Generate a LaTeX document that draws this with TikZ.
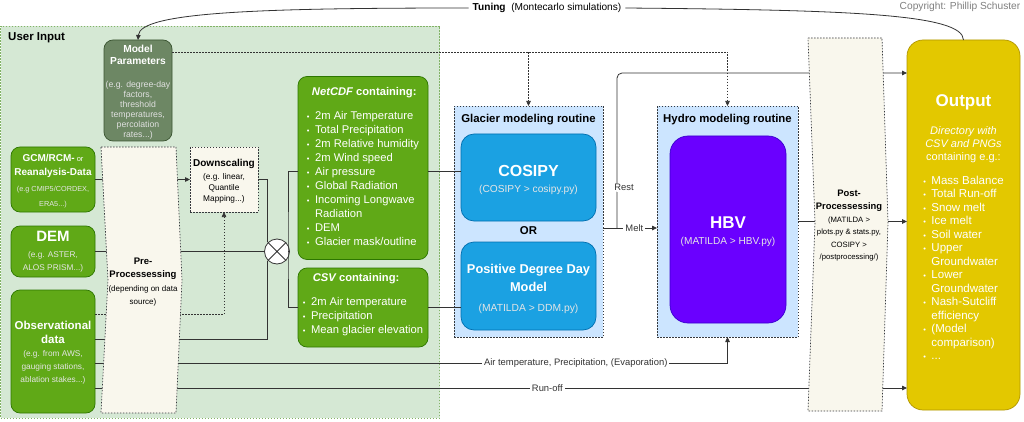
\documentclass[tikz,border=0pt]{standalone}
\usepackage{fontspec}
\setmainfont{Liberation Sans}
\usetikzlibrary{arrows.meta,calc}
\definecolor{uibg}{HTML}{D5E8D4}
\definecolor{uibd}{HTML}{82B366}
\definecolor{mpfill}{HTML}{6D8764}
\definecolor{mpbd}{HTML}{3A5431}
\definecolor{gfill}{HTML}{60A917}
\definecolor{gbd}{HTML}{2D7600}
\definecolor{ppfill}{HTML}{F9F7ED}
\definecolor{ppbd}{HTML}{36393D}
\definecolor{cbg}{HTML}{CCE5FF}
\definecolor{bfill}{HTML}{1BA1E2}
\definecolor{bbd}{HTML}{006EAF}
\definecolor{hfill}{HTML}{6A00FF}
\definecolor{hbd}{HTML}{3700CC}
\definecolor{ofill}{HTML}{E3C800}
\definecolor{obd}{HTML}{B09500}
\definecolor{ln}{HTML}{333333}
\newcommand\fsz[2]{\fontsize{#1}{#2}\selectfont}
\newcommand\bul{{\fontsize{7.5}{7}\selectfont\textbullet}}
\tikzset{
  base/.style={inner sep=0pt, outer sep=0pt, align=center},
  txt/.style={inner sep=0pt, outer sep=0pt, align=center},
  dotline/.style={dash pattern=on 1.5pt off 1.5pt, line width=0.7pt},
  uibox/.style={base, draw=uibd, fill=uibg, dotline},
  gbox/.style={base, draw=gbd, fill=gfill, rounded corners=9pt, text=white, line width=0.7pt},
  mpbox/.style={base, draw=mpbd, fill=mpfill, rounded corners=9pt, text=white, line width=0.7pt},
  ppbox/.style={draw=ppbd, fill=ppfill, dotline},
  dsbox/.style={base, draw=ppbd, fill=ppfill, dotline},
  cont/.style={base, draw=ppbd, fill=cbg, dotline},
  bbox/.style={base, draw=bbd, fill=bfill, rounded corners=13pt, text=white, line width=0.7pt},
  hbvbox/.style={base, draw=hbd, fill=hfill, rounded corners=18pt, text=white, line width=0.7pt},
  obox/.style={base, draw=obd, fill=ofill, rounded corners=16pt, text=white, line width=0.7pt},
  conn/.style={draw=ln, line width=0.8pt},
  arr/.style={-{Triangle[length=5pt,width=4.5pt]}},
  lbl/.style={fill=white, inner xsep=2pt, inner ysep=1pt, font=\fsz{9.4}{11}, text=ln},
  ttl/.style={inner sep=0pt, font=\fsz{11.4}{13}\bfseries},
}
\begin{document}
\begin{tikzpicture}[x=1pt,y=-1pt]
\useasboundingbox (0,0) rectangle (1024,422);
\fill[white] (0,0) rectangle (1024,422);
% user input area
\node[uibox, minimum width=439pt, minimum height=392pt, anchor=north west] (ui) at (0.5,26) {};
\node[anchor=west, inner sep=0pt, font=\fsz{11.5}{13}\bfseries] (uilbl) at (8,38) {User Input};
\node[text=gray, inner sep=0pt, font=\fsz{10.2}{12}] (copy) at (960,7) {Copyright: Phillip Schuster};
% nodes
\node[mpbox, minimum width=68pt, minimum height=101pt] (mp) at (138,90.5) {};
\node[txt, text=white, font=\fsz{8.7}{10.1}] (mptxt) at (138,92.5)
 {{\fsz{10.2}{12}\bfseries Model}\\[1.9pt]{\fsz{10.2}{12}\bfseries Parameters}\\[12.5pt]
  {\color{white!88!black}(e.g. degree-day}\\{\color{white!88!black}factors,}\\
  {\color{white!88!black}threshold}\\{\color{white!88!black}temperatures,}\\
  {\color{white!88!black}percolation}\\{\color{white!88!black}rates...)}};
\node[gbox, minimum width=84pt, minimum height=65pt] (gcm) at (53,179.5) {};
\node[txt, text=white, font=\fsz{7.3}{15}] (gcmtxt) at (53,181.5)
 {{\fsz{10}{14}\bfseries GCM/RCM-} {\fsz{7.5}{14}or}\\[-1pt]{\fsz{10}{14}\bfseries Reanalysis-Data}\\[1pt]
  {\color{white!90!black}(e.g CMIP5/CORDEX,}\\{\color{white!90!black}ERA5...)}};
\node[gbox, minimum width=84pt, minimum height=51pt, font=\fsz{8.3}{13}] (dem) at (53,251.5)
 {{\fsz{15}{15}\bfseries DEM}\\[3pt]{\color{white!90!black}(e.g. ASTER,}\\{\color{white!90!black}ALOS PRISM...)}};
\node[gbox, minimum width=84pt, minimum height=123pt] (obs) at (53,351.5) {};
\node[txt, text=white, font=\fsz{8.3}{13}] (obstxt) at (53,352.5)
 {{\fsz{11.5}{14}\bfseries Observational}\\[1pt]{\fsz{11.5}{14}\bfseries data}\\
  {\color{white!90!black}(e.g. from AWS,}\\{\color{white!90!black}gauging stations,}\\{\color{white!90!black}ablation stakes...)}};
\node[dsbox, minimum width=68pt, minimum height=65pt] (ds) at (224,179.5) {};
\node[txt, font=\fsz{8.3}{11}] (dstxt) at (224,181.5)
 {{\fsz{10}{12}\bfseries Downscaling}\\[2pt](e.g. linear,\\Quantile\\Mapping...)};
\node[draw=ln, fill=white, circle, minimum size=25pt, inner sep=0pt, line width=0.8pt] (circ) at (277,251.5) {};
\draw[ln, line width=0.8pt] (circ.north west) -- (circ.south east) (circ.north east) -- (circ.south west);
\node[gbox, minimum width=130pt, minimum height=183pt, font=\fsz{11.2}{14}] (netcdf) at (363,168)
 {\begin{tabular}[t]{@{}l@{\hspace{5.5pt}}l@{}}
  \multicolumn{2}{@{}l@{}}{\hspace{5pt}\bfseries\itshape NetCDF\upshape\ containing:}\\[10pt]
  \bul & 2m Air Temperature\\
  \bul & Total Precipitation\\
  \bul & 2m Relative humidity\\
  \bul & 2m Wind speed\\
  \bul & Air pressure\\
  \bul & Global Radiation\\
  \bul & Incoming Longwave\\
   & Radiation\\
  \bul & DEM\\
  \bul & Glacier mask/outline
 \end{tabular}};
\node[gbox, minimum width=130pt, minimum height=79pt] (csv) at (363,307.5) {};
\node[txt, text=white, font=\fsz{11.2}{14}] (csvtxt) at (363,305)
 {\begin{tabular}{@{}l@{\hspace{5.5pt}}l@{}}
  \multicolumn{2}{@{}l@{}}{\hspace{10pt}\bfseries\itshape CSV\upshape\ containing:}\\[10pt]
  \bul & 2m Air temperature\\
  \bul & Precipitation\\
  \bul & Mean glacier elevation
 \end{tabular}};
\node[cont, minimum width=149pt, minimum height=231pt] (glacier) at (528.5,221.5) {};
\node[ttl] (gtitle) at (528.5,120) {Glacier modeling routine};
\node[bbox, minimum width=135pt, minimum height=87pt] (cosipy) at (528.5,177.5) {};
\node[txt, text=white, font=\fsz{10.2}{16}] (cosipytxt) at (528.5,179.5)
 {{\fsz{16}{18}\bfseries COSIPY}\\{\color{white!90!black}(COSIPY > cosipy.py)}};
\node[ttl] (or) at (528.5,230.5) {OR};
\node[bbox, minimum width=135pt, minimum height=88pt] (pdd) at (528.5,286) {};
\node[txt, text=white, font=\fsz{10.3}{18}] (pddtxt) at (528.5,289)
 {{\fsz{12.8}{18}\bfseries Positive Degree Day}\\{\fsz{12.8}{18}\bfseries Model}\\[2pt]{\color{white!90!black}(MATILDA > DDM.py)}};
\node[cont, minimum width=141pt, minimum height=231pt] (hydro) at (727.5,221.5) {};
\node[ttl] (htitle) at (727.5,120) {Hydro modeling routine};
\node[hbvbox, minimum width=116pt, minimum height=187pt] (hbv) at (728,229.5) {};
\node[txt, text=white, font=\fsz{10.1}{16}] (hbvtxt) at (728,232)
 {{\fsz{17}{19}\bfseries HBV}\\{\color{white!90!black}(MATILDA > HBV.py)}};
\node[obox, minimum width=113pt, minimum height=370pt] (out) at (963.5,225) {};
\node[txt, text=white, font=\fsz{11}{13.3}] (outtxt) at (963.5,229)
 {{\fsz{17}{20}\bfseries Output}\\[14.5pt]
  {\itshape Directory with}\\{\itshape CSV and PNGs}\\containing e.g.:\\[10pt]
  {\fsz{11.5}{13.5}\begin{tabular}[t]{@{}l@{\hspace{5.5pt}}l@{}}
  \bul & Mass Balance\\
  \bul & Total Run-off\\
  \bul & Snow melt\\
  \bul & Ice melt\\
  \bul & Soil water\\
  \bul & Upper\\ & Groundwater\\
  \bul & Lower\\ & Groundwater\\
  \bul & Nash-Sutcliff\\ & efficiency\\
  \bul & (Model\\ & comparison)\\
  \bul & ...
  \end{tabular}}};
% tuning
\node[inner xsep=4pt, inner ysep=1pt, font=\fsz{10.1}{12}] (tun) at (547,8) {\textbf{Tuning}\ \ (Montecarlo simulations)};
\draw[conn, arr] (tun.west) .. controls (260,8) and (140,12) .. (mp.north);
\draw[conn] (tun.east) .. controls (850,10) and (963,14) .. (out.north);
% dotted parameter links
\draw[ln, dotline, arr] ([yshift=-12pt]mp.north east) -| (glacier.north);
\draw[ln, dotline, arr] ([yshift=-12pt]mp.north east) -| (hydro.north);
% connectors
\draw[conn, arr] (gcm.east) -- (ds.west);
\draw[conn] (ds.east) -| (circ.north west);
\draw[conn] (dem.east) -- (circ.west);
\draw[conn] ([yshift=12.5pt]obs.east) -| (circ.south west);
\draw[ln, dotline, arr] ([yshift=37.5pt]obs.east) -| (ds.south);
\coordinate (j) at (288,251.5);
\draw[conn] (circ.east) -- (j);
\draw[conn] ([yshift=-3.5pt]netcdf.west) -| (j) |- (csv.west);
\draw[conn] ([yshift=-3.5pt]netcdf.east) -- ([yshift=-3.5pt]netcdf.east -| cosipy.west);
\draw[conn] (csv.east) -- (csv.east -| pdd.west);
\coordinate (mj) at (617,228);
\draw[conn, arr] ([yshift=-6.5pt]glacier.east) -- node[lbl, pos=0.58] {Melt} ([yshift=-6.5pt]hydro.west);
\draw[conn, arr, rounded corners=5pt] (mj) |- node[lbl, pos=0.13, xshift=7pt] {Rest} ([yshift=-33pt]out.north west);
\draw[conn, arr] (hydro.east) -- (hydro.east -| out.west);
\draw[conn, arr] ([yshift=-11.5pt]obs.east) -| node[lbl, pos=0.38] {Air temperature, Precipitation, (Evaporation)} (hydro.south);
\draw[conn, arr] ([yshift=-36.5pt]obs.east) -- node[lbl, pos=0.557] {Run-off} ([yshift=-36.5pt]obs.east -| out.west);
% pre / post processing
\draw[ppbox] (101,147) -- (176,147) -- (182,280) -- (176,413) -- (101,413) -- (108,280) -- cycle;
\node[base, font=\fsz{8}{13.3}] (pre) at (143,282)
 {{\fsz{9.5}{13}\bfseries Pre-}\\{\fsz{9.5}{13}\bfseries Processessing}\\(depending on data\\source)};
\draw[ppbox] (808,38) -- (882,38) -- (888,222) -- (882,411) -- (808,411) -- (815,222) -- cycle;
\node[base, font=\fsz{7.7}{12.6}] (post) at (849,226)
 {{\fsz{9.4}{12.5}\bfseries Post-}\\{\fsz{9.4}{12.5}\bfseries Processessing}\\(MATILDA >\\plots.py \& stats.py,\\COSIPY >\\/postprocessing/)};
\end{tikzpicture}
\end{document}
